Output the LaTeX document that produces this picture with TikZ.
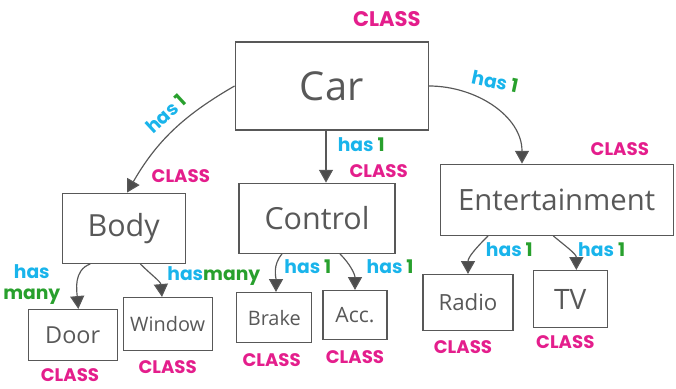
\documentclass[tikz,border=0pt]{standalone}
\usepackage{fontspec}
\setmainfont{Open Sans}
\newfontfamily\markfont{Poppins}
\usepackage{xcolor}
\usetikzlibrary{arrows.meta, positioning}

\definecolor{pencil}{RGB}{88,88,88}
\definecolor{classpink}{RGB}{228,30,140}
\definecolor{hasblue}{RGB}{25,180,235}
\definecolor{onegreen}{RGB}{40,160,45}

\begin{document}
\begin{tikzpicture}[
  every node/.style={inner sep=0pt},
  box/.style={rectangle, draw=pencil, line width=1.1pt, text=pencil, align=center},
  bigbox/.style={box, font=\fontsize{26}{30}\selectfont},
  smallbox/.style={box, font=\fontsize{18}{21}\selectfont},
  cls/.style={font=\markfont\bfseries\fontsize{15.5}{17}\selectfont, text=classpink},
  rel/.style={font=\markfont\bfseries\fontsize{16}{18}\selectfont, inner sep=1pt},
  arrow/.style={-{Triangle[length=11pt, width=12pt, fill=black!70]}, draw=pencil, line width=1pt}
]
\useasboundingbox (0,0) rectangle (20.28,-11.67);

% classes
\node[bigbox, minimum width=5.79cm, minimum height=2.64cm, font=\fontsize{34}{38}\selectfont] (car) at (9.95,-2.58) {Car};
\node[bigbox, minimum width=3.69cm, minimum height=2.1cm, below=1.86cm of car, xshift=-6.24cm] (body) {Body};
\node[bigbox, minimum width=4.68cm, minimum height=2.1cm, below=1.56cm of car, xshift=-0.44cm] (control) {Control};
\node[bigbox, minimum width=6.99cm, minimum height=2.13cm, below=0.99cm of car, xshift=6.75cm, font=\fontsize{25}{30}\selectfont] (ent) {Entertainment};

\node[smallbox, minimum width=2.67cm, minimum height=1.53cm, below=1.35cm of body, xshift=-1.53cm, font=\fontsize{20}{24}\selectfont] (door) {Door};
\node[smallbox, minimum width=2.67cm, minimum height=1.59cm, below=0.99cm of body, xshift=1.32cm, font=\fontsize{17}{20}\selectfont] (window) {Window};
\node[smallbox, minimum width=2.25cm, minimum height=1.5cm, below=1.14cm of control, xshift=-1.28cm, font=\fontsize{17}{20}\selectfont] (brake) {Brake};
\node[smallbox, minimum width=1.92cm, minimum height=1.47cm, below=1.08cm of control, xshift=1.14cm] (acc) {Acc.};
\node[smallbox, minimum width=2.7cm, minimum height=1.68cm, below=1.14cm of ent, xshift=-2.66cm, font=\fontsize{19}{22}\selectfont] (radio) {Radio};
\node[smallbox, minimum width=2.22cm, minimum height=1.71cm, below=1.02cm of ent, xshift=0.41cm, font=\fontsize{24}{28}\selectfont] (tv) {TV};

% CLASS tags
\node[cls, above=0.42cm of car.north east, xshift=-1.26cm, font=\markfont\bfseries\fontsize{18}{20}\selectfont] (carcls) {CLASS};
\node[cls, above=0.3cm of body.north east, xshift=-0.15cm] (bodycls) {CLASS};
\node[cls, above=0.15cm of control.north east, xshift=-0.51cm] (controlcls) {CLASS};
\node[cls, above=0.24cm of ent.north east, xshift=-1.62cm] (entcls) {CLASS};
\node[cls, below=0.21cm of door, xshift=-0.08cm] (doorcls) {CLASS};
\node[cls, below=0.27cm of window] (windowcls) {CLASS};
\node[cls, below=0.3cm of brake, xshift=-0.08cm] (brakecls) {CLASS};
\node[cls, below=0.3cm of acc] (acccls) {CLASS};
\node[cls, below=0.27cm of radio, xshift=-0.15cm] (radiocls) {CLASS};
\node[cls, below=0.21cm of tv, xshift=-0.15cm] (tvcls) {CLASS};

% has-relations
\draw[arrow] (car.west) to[out=210, in=60]
  node[rel, pos=0.45, sloped, above=7pt] {\textcolor{hasblue}{has}~\textcolor{onegreen}{1}} ([xshift=0.1cm]body.north);
\draw[arrow] ([xshift=-0.17cm]car.south) --
  node[rel, pos=0.27, right=0.3cm] {\textcolor{hasblue}{has} \textcolor{onegreen}{1}} ([xshift=0.27cm]control.north);
\draw[arrow] (car.east) to[out=0, in=90]
  node[rel, pos=0.5, above=0.5cm, rotate=-12] {\textcolor{hasblue}{has} \textcolor{onegreen}{1}} ([xshift=-1.04cm]ent.north);

\draw[arrow] ([xshift=-1.0cm]body.south) to[out=200, in=95]
  node[rel, align=center, pos=0.55, left=0.45cm] {\textcolor{hasblue}{has}\\\textcolor{onegreen}{many}} ([xshift=0.17cm]door.north);
\draw[arrow] ([xshift=0.5cm]body.south) to[out=-45, in=95]
  node[rel, pos=0.4, right=0.4cm] {\textcolor{hasblue}{has}\textcolor{onegreen}{many}} ([xshift=-0.17cm]window.north);

\draw[arrow] ([xshift=-1.05cm]control.south) to[out=230, in=90]
  node[rel, pos=0.35, right=0.2cm] {\textcolor{hasblue}{has} \textcolor{onegreen}{1}} ([xshift=0.05cm]brake.north);
\draw[arrow] ([xshift=0.69cm]control.south) to[out=-45, in=90]
  node[rel, pos=0.4, right=0.45cm] {\textcolor{hasblue}{has} \textcolor{onegreen}{1}} (acc.north);

\draw[arrow] ([xshift=-2.06cm]ent.south) to[out=225, in=90]
  node[rel, pos=0.4, right=0.25cm] {\textcolor{hasblue}{has} \textcolor{onegreen}{1}} (radio.north);
\draw[arrow] ([xshift=-0.1cm]ent.south) to[out=-40, in=90]
  node[rel, pos=0.45, right=0.25cm] {\textcolor{hasblue}{has} \textcolor{onegreen}{1}} ([xshift=0.18cm]tv.north);

\end{tikzpicture}
\end{document}
